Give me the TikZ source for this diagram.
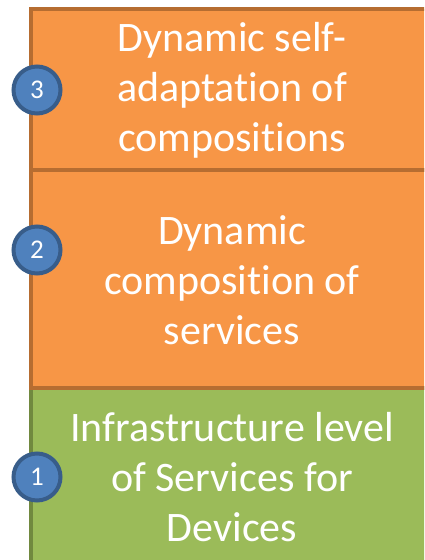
\documentclass[tikz,border=0pt]{standalone}
\usepackage{fontspec}
\setmainfont{Carlito}[Ligatures={NoCommon}]
\definecolor{orfill}{HTML}{F79646}
\definecolor{ordraw}{HTML}{B66D31}
\definecolor{grfill}{HTML}{9BBB59}
\definecolor{grdraw}{HTML}{71893F}
\definecolor{blfill}{HTML}{4F81BD}
\definecolor{bldraw}{HTML}{385D8A}
\tikzset{
  orangebox/.style={draw=ordraw, fill=orfill, line width=4.5pt},
  greenbox/.style={draw=grdraw, fill=grfill, line width=4.5pt},
  boxtext/.style={text=white, align=center, font=\fontsize{42}{50}\selectfont, inner sep=0pt},
  numdot/.style={circle, draw=bldraw, fill=blfill, line width=4pt, minimum size=47pt, inner sep=0pt, text=white, font=\fontsize{27}{30}\selectfont}
}
\begin{document}
\begin{tikzpicture}[x=1pt,y=-1pt]
\useasboundingbox (0,0) rectangle (424,560);
\begin{scope}
\clip (0,0) rectangle (424,560);
\draw[greenbox] (31,388) rectangle (432,572);
\draw[orangebox] (31,170) rectangle (432,388);
\draw[orangebox] (31,9) rectangle (432,170);
\end{scope}
\node[boxtext] (t3) at (232,90) {Dynamic self-\\adaptation of\\compositions};
\node[boxtext] (t2) at (232,280) {Dynamic\\composition of\\services};
\node[boxtext] (t1) at (232,477) {Infrastructure level\\of Services for\\Devices};
\node[numdot] (n3) at (37,90) {3};
\node[numdot] (n2) at (37,250) {2};
\node[numdot] (n1) at (37,477) {1};
\end{tikzpicture}
\end{document}
